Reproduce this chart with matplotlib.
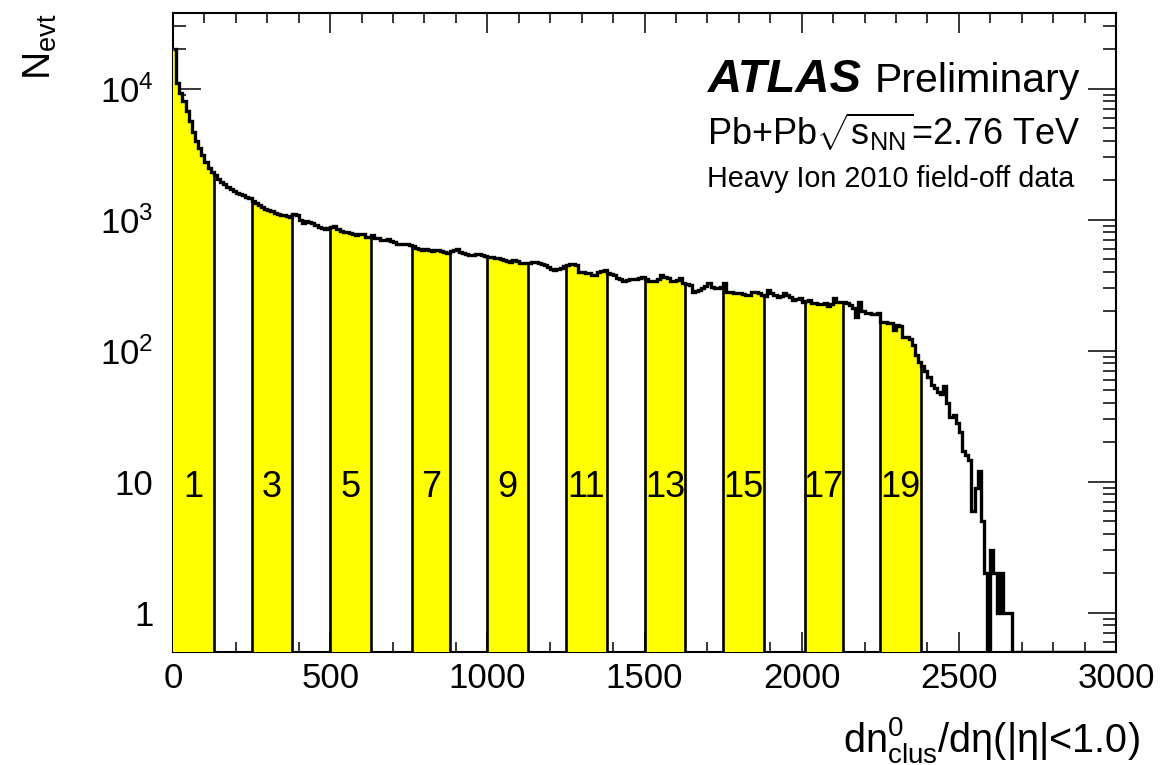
import numpy as np
import matplotlib
matplotlib.use("Agg")
import matplotlib.pyplot as plt
from matplotlib import font_manager
from matplotlib.ticker import LogLocator, MultipleLocator, NullFormatter, FixedLocator, FixedFormatter


def pick_font(names):
    for n in names:
        try:
            font_manager.findfont(n, fallback_to_default=False)
            return n
        except ValueError:
            continue
    return "DejaVu Sans"


narrow = pick_font(["Liberation Sans Narrow", "Liberation Sans"])
normal = pick_font(["Liberation Sans", "DejaVu Sans"])
nsize = 28 if narrow == "Liberation Sans Narrow" else 25

plt.rcParams["font.family"] = [narrow, "DejaVu Sans"]
plt.rcParams["mathtext.fontset"] = "custom"
plt.rcParams["mathtext.rm"] = narrow
plt.rcParams["mathtext.it"] = narrow + ":italic"

# histogram: 10-unit bins from 0 to 3000
bin_width = 10
counts = [
    20000, 11000, 9200, 8000, 6800, 5700, 4700, 4000, 3500, 3100,
    2750, 2500, 2330, 2180, 2050, 1950, 1860, 1780, 1700, 1640,
    1590, 1560, 1530, 1500, 1470, 1380, 1340, 1290, 1240, 1210,
    1190, 1160, 1130, 1110, 1090, 1080, 1060, 1040, 1100, 1090,
    995, 940, 983, 960, 940, 911, 880, 865, 846, 870,
    885, 900, 846, 815, 805, 800, 785, 775, 764, 770,
    778, 740, 734, 764, 730, 720, 700, 705, 707, 685,
    670, 649, 657, 655, 649, 640, 634, 610, 600, 587,
    593, 590, 580, 585, 587, 577, 565, 554, 580, 585,
    593, 565, 555, 547, 540, 538, 547, 545, 538, 530,
    520, 516, 513, 507, 501, 490, 486, 478, 493, 480,
    470, 467, 465, 470, 475, 478, 465, 455, 451, 433,
    418, 413, 420, 430, 443, 450, 459, 455, 451, 401,
    396, 394, 390, 380, 378, 401, 407, 413, 394, 385,
    378, 357, 350, 337, 345, 351, 351, 354, 357, 367,
    350, 337, 340, 342, 351, 378, 365, 357, 337, 340,
    347, 357, 327, 322, 318, 282, 286, 290, 299, 310,
    327, 308, 303, 299, 308, 327, 282, 278, 274, 275,
    276, 271, 268, 266, 282, 280, 276, 268, 262, 290,
    275, 266, 258, 262, 274, 265, 258, 244, 248, 251,
    237, 240, 244, 230, 230, 227, 228, 230, 219, 225,
    251, 237, 237, 237, 230, 223, 211, 182, 237, 200,
    195, 193, 190, 190, 193, 166, 164, 163, 162, 144,
    157, 155, 128, 126, 122, 111, 93, 82, 76, 70,
    63, 55, 52, 48, 47, 54, 40, 31, 32, 28,
    24, 17, 16, 14.5, 6, 9, 12, 5, 2, 0,
    3, 2, 1, 2, 1, 1, 1,
] + [0] * 33

# centrality band boundaries (yellow = odd bands)
band_edges = [0, 130, 250, 380, 500, 630, 760, 880, 1000, 1130, 1250,
              1380, 1500, 1630, 1750, 1880, 2010, 2130, 2250, 2380, 3000]
band_labels = ["1", "3", "5", "7", "9", "11", "13", "15", "17", "19"]

xlo, xhi = 0, 3000
ylo, yhi = 0.5, 3.8e4

counts = np.array(counts, dtype=float)
edges = np.arange(0, len(counts) + 1) * bin_width
shown = np.where(counts > 0, counts, ylo)

W, H = 1171, 765
fig = plt.figure(figsize=(W / 100, H / 100), dpi=100)
ax = fig.add_axes([173 / W, 1 - 652 / H, (1116 - 173) / W, (652 - 12.7) / H])
ax.set_yscale("log")
ax.set_xlim(xlo, xhi)
ax.set_ylim(ylo, yhi)

yellow = "#ffff00"
for j in range(len(band_labels)):
    a, b = band_edges[2 * j], band_edges[2 * j + 1]
    i0, i1 = a // bin_width, b // bin_width
    ax.stairs(shown[i0:i1], edges[i0:i1 + 1], fill=True, color=yellow,
              baseline=1e-3, zorder=3)
    ax.text((a + b) / 2, 7.6, band_labels[j], ha="center", va="baseline",
            fontsize=nsize + 1, zorder=6)

for e in band_edges[1:-1]:
    k = e // bin_width
    top = max(shown[k - 1], shown[k])
    ax.vlines(e, 1e-3, top, color="black", lw=1.9, zorder=4)

ax.stairs(shown, edges, color="black", lw=2.4, baseline=None, zorder=5)

# ticks, ROOT style
ax.xaxis.set_major_locator(MultipleLocator(500))
ax.xaxis.set_minor_locator(MultipleLocator(100))
ax.yaxis.set_major_locator(FixedLocator([1, 10, 100, 1000, 10000]))
ax.yaxis.set_major_formatter(FixedFormatter(["1", "10", "$10^{2}$", "$10^{3}$", "$10^{4}$"]))
ax.yaxis.set_minor_locator(LogLocator(base=10, subs=np.arange(2, 10)))
ax.yaxis.set_minor_formatter(NullFormatter())
ax.tick_params(which="both", direction="in", top=True, right=True, width=1.1,
               labelsize=nsize)
ax.tick_params(axis="x", which="major", length=14.4, pad=7)
ax.tick_params(axis="x", which="minor", length=7.2)
ax.tick_params(axis="y", which="major", length=20, pad=14)
ax.tick_params(axis="y", which="minor", length=9.4)
for s in ax.spines.values():
    s.set_linewidth(1.5)


def px(x, y):
    return x / W, 1 - y / H


fig.text(*px(40, 14), r"N$_{\mathrm{evt}}$", rotation=90, ha="center", va="top",
         fontsize=28)
fig.text(*px(1140, 752), r"dn$^{0}_{\mathrm{clus}}$/d$\mathrm{\eta}$(|$\mathrm{\eta}$|<1.0)",
         ha="right", va="baseline", fontsize=28.5)

fig.text(*px(708, 92), "ATLAS", fontsize=34, fontweight="bold", fontstyle="italic",
         family=normal, va="baseline")
fig.text(*px(875, 92), "Preliminary", fontsize=29.5, family=normal, va="baseline")
fig.text(*px(707, 145), r"Pb+Pb$\sqrt{\mathrm{s}_{\mathrm{NN}}}$=2.76 TeV", fontsize=26,
         family=normal, va="baseline")
fig.text(*px(707, 187), "Heavy Ion 2010 field-off data", fontsize=20.7,
         family=normal, va="baseline")

fig.savefig("out.png", dpi=100)
